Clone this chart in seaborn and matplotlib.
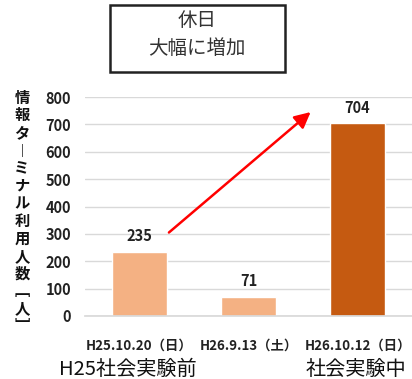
import matplotlib
matplotlib.use("Agg")
import matplotlib.pyplot as plt
import matplotlib.patches as mpatches
import seaborn as sns
import pandas as pd

# data
dates = ["H25.10.20（日）", "H26.9.13（土）", "H26.10.12（日）"]
users = [235, 71, 704]
bar_colors = ["#F4B183", "#F4B183", "#C55A11"]
y_ticks = [0, 100, 200, 300, 400, 500, 600, 700, 800]
y_label = "情報タ︱ミナル利用人数﹇人﹈"
title_lines = ["休日", "大幅に増加"]
group_labels = ["H25社会実験前", "社会実験中"]

sns.set_theme(style="white")
plt.rcParams['font.family'] = ['Noto Sans CJK JP', 'DejaVu Sans']

df = pd.DataFrame({"date": dates, "users": users})

W, H = 412, 379
fig = plt.figure(figsize=(W / 100, H / 100), dpi=100)
ax = fig.add_axes([85 / W, 1 - 316 / H, 327 / W, 219 / H])

sns.barplot(data=df, x="date", y="users", hue="date", palette=bar_colors,
            width=0.5, legend=False, ax=ax, saturation=1)

ax.set_ylim(0, 800)
ax.set_xlim(-0.5, 2.5)
ax.set_yticks(y_ticks)
ax.yaxis.grid(True, color="#D9D9D9", linewidth=1)
ax.set_axisbelow(True)
for s in ["top", "right", "left"]:
    ax.spines[s].set_visible(False)
ax.spines["bottom"].set_color("#D9D9D9")
ax.tick_params(axis="y", length=0, pad=10, labelsize=10.5)
ax.tick_params(axis="x", length=0, pad=16, labelsize=9.6)
for lbl in ax.get_yticklabels() + ax.get_xticklabels():
    lbl.set_fontweight("bold")
    lbl.set_color("#222222")
ax.set_xlabel("")
ax.set_ylabel("")

# value labels
for i, v in enumerate(users):
    ax.annotate(str(v), (i, v), xytext=(0, 11), textcoords="offset points",
                ha="center", va="center", fontsize=10.5,
                fontweight="bold", color="#222222")

# arrow from first bar up to the third
ax.annotate("", xy=(1.57, users[2] + 41), xytext=(0.27, users[0] + 70),
            arrowprops=dict(arrowstyle="-|>", color="#FF0000", lw=1.8,
                            mutation_scale=24, shrinkA=0, shrinkB=0))

# vertical y label, stacked characters
fig.text(22 / W, 1 - 212 / H, "\n".join(y_label), ha="center", va="center",
         fontsize=11, fontweight="bold", linespacing=1.12, color="#111111")

# title box
fig.add_artist(mpatches.Rectangle((110 / W, 1 - 72 / H), 175 / W, 67 / H,
                                  transform=fig.transFigure, facecolor="white",
                                  edgecolor="#222222", linewidth=1.8))
fig.text(197 / W, 1 - 21 / H, title_lines[0], ha="center", va="center",
         fontsize=14, color="#333333")
fig.text(197 / W, 1 - 48 / H, title_lines[1], ha="center", va="center",
         fontsize=14, color="#333333")

# group labels under the axis
fig.text(128 / W, 1 - 369 / H, group_labels[0], ha="center", va="center",
         fontsize=14.5, color="#111111")
fig.text(356 / W, 1 - 369 / H, group_labels[1], ha="center", va="center",
         fontsize=14.5, color="#111111")

fig.savefig("out.png", dpi=100)
